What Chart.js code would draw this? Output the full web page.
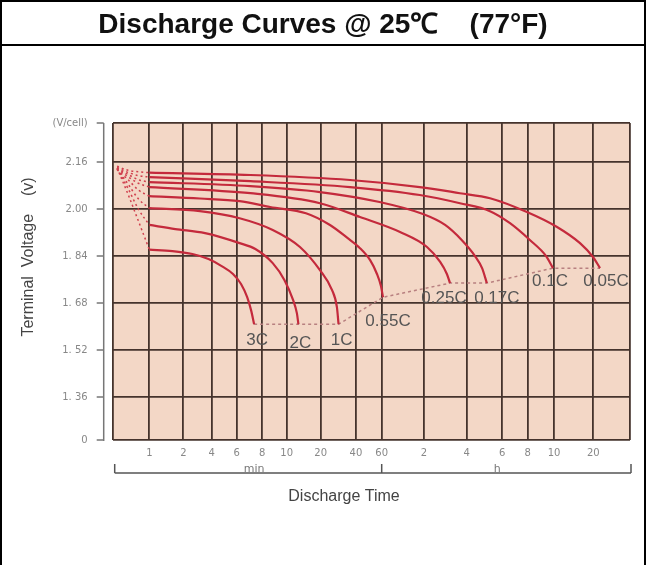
<!DOCTYPE html>
<html>
<head>
<meta charset="utf-8">
<script src="https://cdn.jsdelivr.net/npm/chart.js@4.4.1/dist/chart.umd.min.js"></script>
<style>
	html, body { margin: 0; padding: 0; background: #fff; }
	body { width: 648px; height: 565px; overflow: hidden; position: relative; font-family: 'Liberation Sans', Arial, sans-serif; }
	.frame { position: absolute; left: 0; top: 0; width: 642px; height: 600px; border: 2px solid #000; border-bottom: none; pointer-events: none; z-index: 2; }
	.title { height: 42px; border-bottom: 2px solid #000; text-align: center; font-weight: bold; font-size: 28px; line-height: 43px; white-space: pre; color: #111; }
	#chart { position: absolute; left: 0; top: 46px; }
</style>
</head>
<body>
<div class="frame"><div class="title">Discharge Curves @ 25℃    (77°F)</div></div>
<canvas id="chart" width="648" height="519"></canvas>
<script>
// discharge rates, in legend order of the curves (fastest first)
const rateLabels = ['3C', '2C', '1C', '0.55C', '0.25C', '0.17C', '0.1C', '0.05C'];

// discharge time in minutes, terminal voltage in V/cell
const time3C = [1, 1.6, 2.5, 3.7, 4.7, 5.65, 6.3, 6.75, 7.05, 7.3];
const volt3C = [1.862, 1.857, 1.847, 1.83, 1.806, 1.779, 1.745, 1.7, 1.656, 1.608];
const time2C = [1, 1.7, 3.4, 6.2, 7.4, 8.8, 9.8, 11.4, 12.3, 12.7];
const volt2C = [1.946, 1.932, 1.918, 1.884, 1.864, 1.816, 1.758, 1.69, 1.646, 1.608];
const time1C = [1, 3.0, 6.2, 8.8, 13.1, 19.7, 25, 27.5, 28.4];
const volt1C = [2.003, 1.993, 1.969, 1.929, 1.871, 1.792, 1.724, 1.666, 1.608];
const time055C = [1, 3.0, 6.2, 8.6, 14.8, 24, 34, 42.6, 50, 55.7, 59.3, 61.3];
const volt055C = [2.044, 2.036, 2.027, 2.007, 1.986, 1.946, 1.901, 1.867, 1.826, 1.779, 1.738, 1.7];
const time025C = [1, 7.0, 19.7, 42.6, 81, 126, 156, 174, 183];
const volt025C = [2.075, 2.054, 2.02, 1.973, 1.922, 1.871, 1.82, 1.779, 1.748];
const time017C = [1, 7.0, 19.7, 58, 118, 169, 222, 264, 286, 302];
const volt017C = [2.092, 2.078, 2.058, 2.024, 1.983, 1.946, 1.894, 1.84, 1.799, 1.748];
const time01C = [1, 7.0, 35.6, 112, 215, 313, 393, 490, 561, 595];
const volt01C = [2.109, 2.095, 2.075, 2.048, 2.02, 1.993, 1.952, 1.894, 1.84, 1.799];
const time005C = [1, 7.0, 35.6, 112, 215, 313, 476, 633, 949, 1193, 1362];
const volt005C = [2.124, 2.116, 2.099, 2.075, 2.054, 2.037, 1.99, 1.939, 1.884, 1.837, 1.799];

// initial voltage dip (dotted), first minute
const dipTimes = [0.12, 0.42, 0.7, 1];
const dip3C = [2.14, 2.05, 1.96, 1.862];
const dip2C = [2.138, 2.07, 2.0, 1.946];
const dip1C = [2.136, 2.085, 2.035, 2.003];
const dip055C = [2.134, 2.1, 2.065, 2.044];
const dip025C = [2.138, 2.11, 2.088, 2.075];
const dip017C = [2.14, 2.118, 2.1, 2.092];
const dip01C = [2.142, 2.125, 2.114, 2.109];
const dip005C = [2.146, 2.132, 2.127, 2.124];

// final discharge voltage line (dotted)
const endTimes = [7.3, 12.7, 28.4, 61.3, 183, 302, 595, 1362];
const endVolts = [1.608, 1.608, 1.608, 1.7, 1.748, 1.748, 1.799, 1.799];

// y axis: broken at the bottom ("0"), unit label at the top
const yTickValues = [1.214, 1.36, 1.52, 1.68, 1.84, 2.0, 2.16, 2.293];
const yTickLabels = ['0', '1. 36', '1. 52', '1. 68', '1. 84', '2.00', '2.16', '(V/cell)'];

// x axis: irregular time scale, gridlines at these times (minutes)
const knotTimes = [0, 1, 2, 4, 6, 8, 10, 20, 40, 60, 120, 240, 360, 480, 600, 1200, 2400];
const knotPos = [0, 0.0708, 0.1365, 0.1914, 0.2397, 0.2892, 0.3364, 0.4021, 0.4703, 0.52, 0.6018, 0.6843, 0.7531, 0.8022, 0.8531, 0.9291, 1];
const xTickLabels = ['', '1', '2', '4', '6', '8', '10', '20', '40', '60', '2', '4', '6', '8', '10', '20', ''];

function toAxis(t) {
	for (let i = 0; i < knotTimes.length - 1; i++) {
		const a = knotTimes[i];
		const b = knotTimes[i + 1];
		if (t <= b) {
			const f = a === 0 ? t / b : Math.log(t / a) / Math.log(b / a);
			return knotPos[i] + f * (knotPos[i + 1] - knotPos[i]);
		}
	}
	return 1;
}

function points(times, volts) {
	return times.map((t, i) => ({ x: toAxis(t), y: volts[i] }));
}

const curveColor = '#c42a3c';
const gridColor = '#45332c';

const curves = [
	[time3C, volt3C], [time2C, volt2C], [time1C, volt1C], [time055C, volt055C],
	[time025C, volt025C], [time017C, volt017C], [time01C, volt01C], [time005C, volt005C]
];
const dips = [dip3C, dip2C, dip1C, dip055C, dip025C, dip017C, dip01C, dip005C];

const datasets = [];
curves.forEach((c, i) => {
	datasets.push({
		label: rateLabels[i],
		data: points(c[0], c[1]),
		borderColor: curveColor,
		borderWidth: 2.2,
		pointRadius: 0,
		cubicInterpolationMode: 'monotone'
	});
});
dips.forEach((d, i) => {
	datasets.push({
		label: 'dip ' + rateLabels[i],
		data: points(dipTimes, d),
		borderColor: '#d0404e',
		borderWidth: 1.5,
		borderDash: [2, 3],
		pointRadius: 0,
		cubicInterpolationMode: 'monotone'
	});
});
datasets.push({
	label: 'end voltage',
	data: points(endTimes, endVolts),
	borderColor: '#b88080',
	borderWidth: 1.5,
	borderDash: [3, 3],
	pointRadius: 0,
	tension: 0
});

// label offsets from each curve end, in px
const labelShift = [[3, 16], [2, 19], [3, 16], [5, 24], [-6, 15], [10, 15], [-3, 13], [6, 13]];

const decor = {
	id: 'decor',
	beforeDraw(chart) {
		const { ctx, chartArea: a } = chart;
		ctx.save();
		ctx.fillStyle = '#f3d7c6';
		ctx.fillRect(a.left, a.top, a.right - a.left, a.bottom - a.top);
		ctx.restore();
	},
	afterDraw(chart) {
		const { ctx, chartArea: a, scales } = chart;
		ctx.save();

		// rate labels at the curve ends
		ctx.fillStyle = '#555';
		ctx.font = '17px "Liberation Sans", Arial, sans-serif';
		ctx.textAlign = 'center';
		ctx.textBaseline = 'middle';
		rateLabels.forEach((lab, i) => {
			const pts = chart.getDatasetMeta(i).data;
			const p = pts[pts.length - 1];
			ctx.fillText(lab, p.x + labelShift[i][0], p.y + labelShift[i][1]);
		});

		// offset y axis line with tick marks
		ctx.strokeStyle = '#777';
		ctx.lineWidth = 1.5;
		const ax = a.left - 9;
		ctx.beginPath();
		ctx.moveTo(ax, a.top);
		ctx.lineTo(ax, a.bottom + 1);
		yTickValues.forEach(v => {
			const py = scales.y.getPixelForValue(v);
			ctx.moveTo(ax - 7, py);
			ctx.lineTo(ax, py);
		});
		ctx.stroke();

		// min / h bracket under the time axis
		const by = a.bottom + 33;
		const x0 = a.left + 2;
		const x1 = scales.x.getPixelForValue(toAxis(60));
		const x2 = a.right + 1;
		ctx.strokeStyle = '#555';
		ctx.beginPath();
		ctx.moveTo(x0, by);
		ctx.lineTo(x2, by);
		[x0, x1, x2].forEach(px => {
			ctx.moveTo(px, by);
			ctx.lineTo(px, by - 9);
		});
		ctx.stroke();
		ctx.fillStyle = '#777';
		ctx.font = '11px "DejaVu Sans", sans-serif';
		ctx.textBaseline = 'alphabetic';
		ctx.fillText('min', (x0 + x1) / 2 + 6, by - 1);
		ctx.fillText('h', (x1 + x2) / 2 - 9, by - 1);

		// axis titles
		ctx.fillStyle = '#444';
		ctx.font = '16px "Liberation Sans", Arial, sans-serif';
		ctx.textBaseline = 'middle';
		ctx.fillText('Discharge Time', 344, by + 24);
		ctx.translate(29, 211);
		ctx.rotate(-Math.PI / 2);
		ctx.fillText('Terminal  Voltage    (v)', 0, 0);
		ctx.restore();
	}
};

new Chart(document.getElementById('chart'), {
	type: 'line',
	data: { datasets },
	options: {
		responsive: false,
		animation: false,
		layout: { padding: { left: 52.7, right: 18, top: 77, bottom: 95 } },
		plugins: {
			legend: { display: false },
			tooltip: { enabled: false }
		},
		scales: {
			x: {
				type: 'linear',
				min: 0,
				max: 1,
				afterBuildTicks: s => {
					s.ticks = knotPos.map(v => ({ value: v }));
				},
				afterFit: s => {
					s.height = 30;
				},
				grid: { color: gridColor, lineWidth: 1.8, drawTicks: false },
				border: { display: false },
				ticks: {
					autoSkip: false,
					maxRotation: 0,
					padding: 7,
					color: '#888',
					font: { family: 'DejaVu Sans', size: 10 },
					callback: (v, i) => xTickLabels[i]
				}
			},
			y: {
				type: 'linear',
				min: 1.214,
				max: 2.293,
				afterBuildTicks: s => {
					s.ticks = yTickValues.map(v => ({ value: v }));
				},
				afterFit: s => {
					s.width = 60;
				},
				grid: { color: gridColor, lineWidth: 1.8, drawTicks: false },
				border: { display: false },
				ticks: {
					padding: 25,
					color: '#888',
					font: { family: 'DejaVu Sans', size: 10 },
					callback: (v, i) => yTickLabels[i]
				}
			}
		}
	},
	plugins: [decor]
});
</script>
</body>
</html>
